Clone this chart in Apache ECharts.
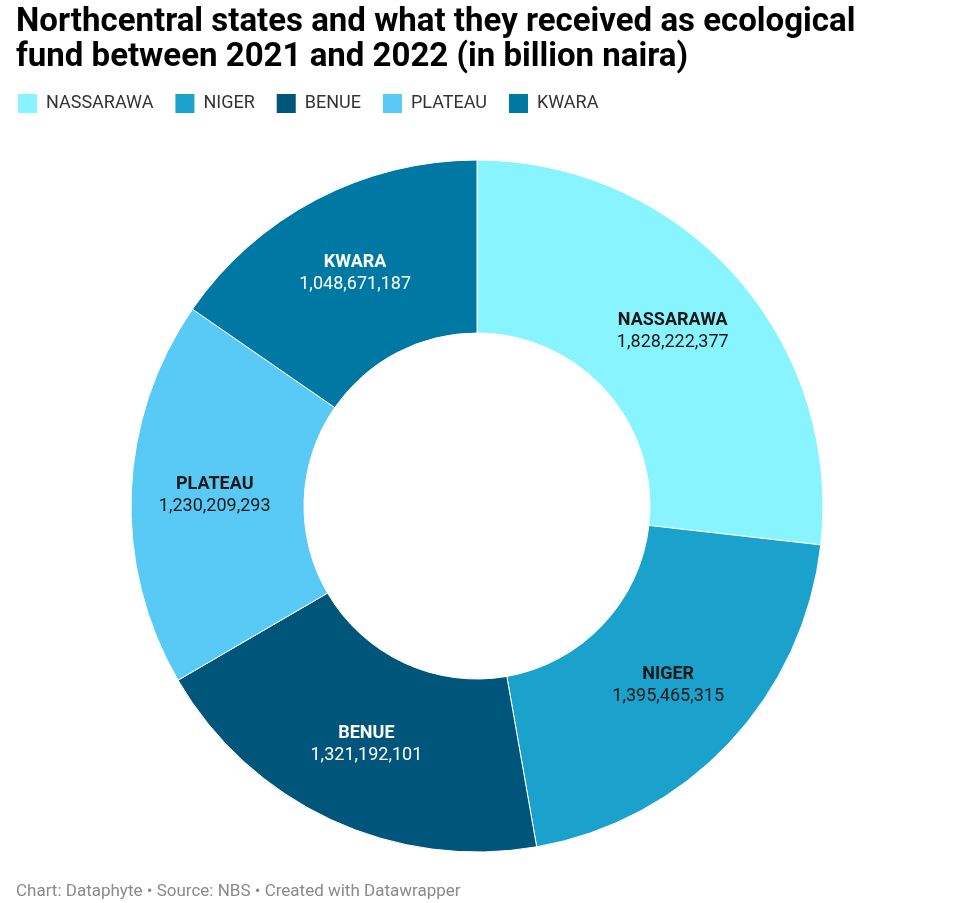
<!DOCTYPE html>
<html>
<head>
<meta charset="utf-8">
<script src="https://cdn.jsdelivr.net/npm/echarts@6/dist/echarts.min.js"></script>
<style>
  html, body { margin: 0; padding: 0; background: #fff; }
  #chart { width: 954px; height: 903px; }
</style>
</head>
<body>
<div id="chart"></div>
<script>
  // data
  const states = ['NASSARAWA', 'NIGER', 'BENUE', 'PLATEAU', 'KWARA']
  const funds = [1828222377, 1395465315, 1321192101, 1230209293, 1048671187]
  const colors = ['#88f4ff', '#1aa1cc', '#00557b', '#58caf5', '#0078a4']
  const labelColors = ['#181818', '#181818', '#ffffff', '#181818', '#ffffff']

  let chart = echarts.init(document.getElementById('chart'))
  let font = 'Roboto, "Noto Sans", sans-serif'

  let options = {
    animation: false,
    textStyle: { fontFamily: font },
    title: [
      {
        text: 'Northcentral states and what they received as ecological\nfund between 2021 and 2022 (in billion naira)',
        left: 11,
        top: 0,
        textStyle: {
          fontFamily: font,
          fontSize: 33,
          fontWeight: 'bold',
          color: '#000',
          lineHeight: 35
        }
      },
      {
        text: 'Chart: Dataphyte • Source: NBS • Created with Datawrapper',
        left: 11,
        top: 878,
        textStyle: {
          fontFamily: font,
          fontSize: 17,
          fontWeight: 'normal',
          color: '#8a8a8a'
        }
      }
    ],
    legend: {
      show: true,
      left: 11,
      top: 87,
      icon: 'rect',
      itemWidth: 21,
      itemHeight: 21,
      itemGap: 20,
      textStyle: {
        fontFamily: font,
        fontSize: 18,
        color: '#333',
        padding: [0, 0, 0, 3]
      },
      data: states
    },
    series: [
      {
        type: 'pie',
        center: [477, 506],
        radius: [173, 346],
        startAngle: 90,
        clockwise: true,
        avoidLabelOverlap: false,
        itemStyle: {
          borderColor: '#fff',
          borderWidth: 1
        },
        label: {
          show: true,
          position: 'inside',
          formatter: (p) => {
            return `{b|${p.name}}\n{v|${p.value.toLocaleString('en-US')}}`
          },
          rich: {
            b: { fontFamily: font, fontSize: 18, fontWeight: 'bold', lineHeight: 22 },
            v: { fontFamily: font, fontSize: 18, lineHeight: 22 }
          }
        },
        labelLine: { show: false },
        emphasis: { disabled: true },
        data: states.map((s, i) => {
          return {
            name: s,
            value: funds[i],
            itemStyle: { color: colors[i] },
            label: { color: labelColors[i] }
          }
        })
      }
    ]
  }
  chart.setOption(options)
</script>
</body>
</html>
